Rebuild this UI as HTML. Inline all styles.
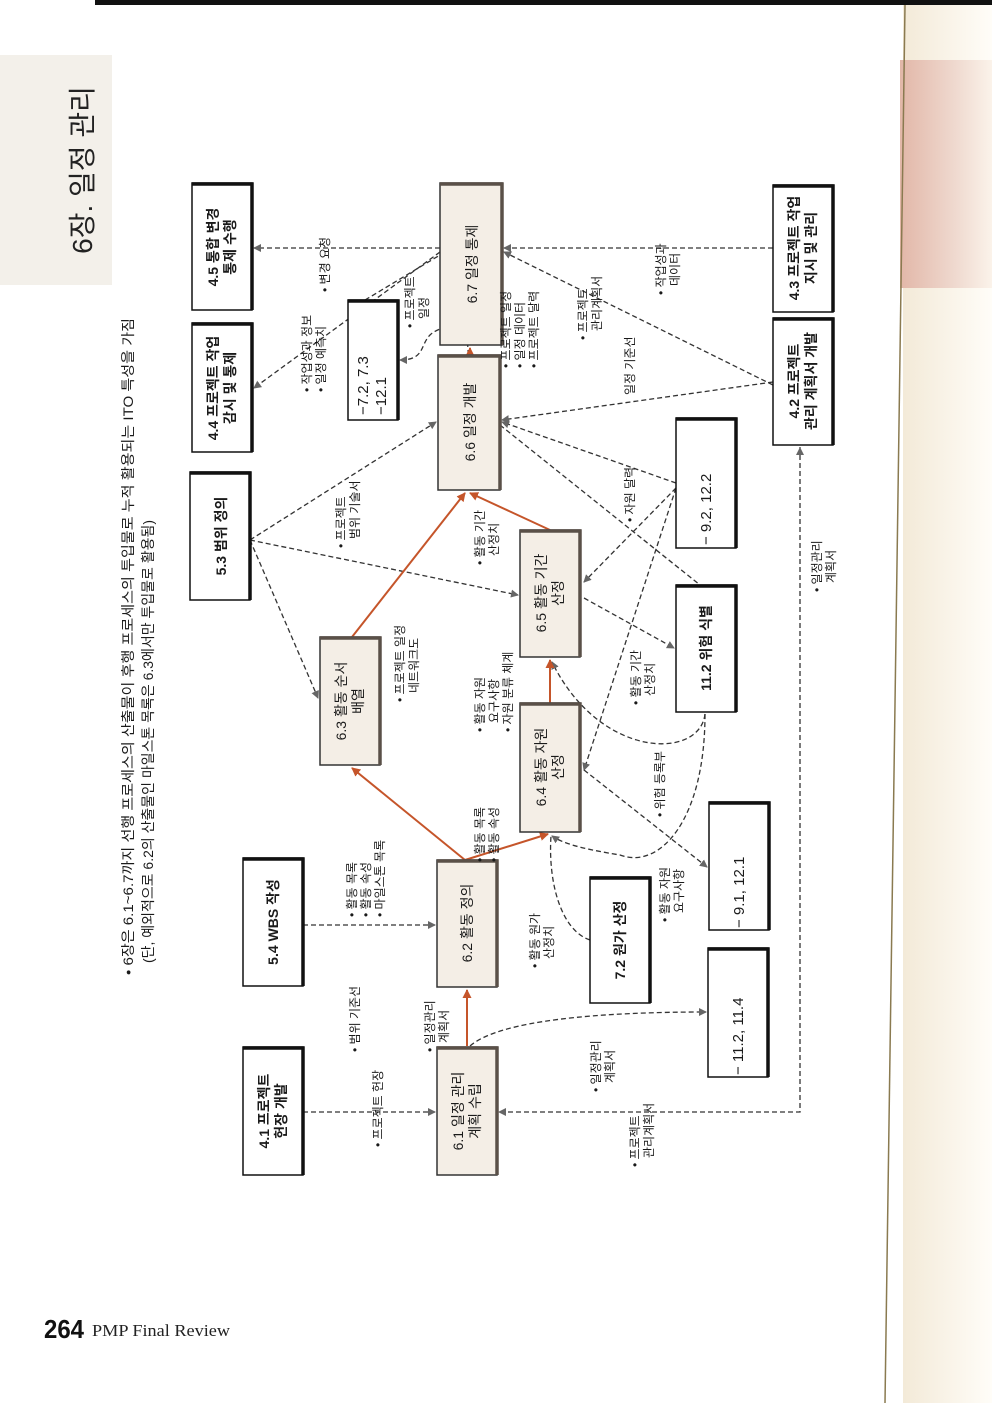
<!DOCTYPE html>
<html><head><meta charset="utf-8"><style>
html,body{margin:0;padding:0;background:#fff;}
svg{display:block;}
text{font-family:"Liberation Sans","Noto Sans CJK KR",sans-serif;fill:#1a1a1a;}
.bx{font-size:14px;font-weight:bold;}
.lb{font-size:12px;}
</style></head><body>
<svg width="992" height="1403" viewBox="0 0 992 1403" xmlns="http://www.w3.org/2000/svg">
<defs>
<marker id="ag" markerWidth="8" markerHeight="8" refX="7" refY="4" orient="auto" markerUnits="userSpaceOnUse"><path d="M0,0 L8,4 L0,8 Z" fill="#666"/></marker>
<marker id="ao" markerWidth="9" markerHeight="9" refX="8" refY="4.5" orient="auto" markerUnits="userSpaceOnUse"><path d="M0,0 L9,4.5 L0,9 Z" fill="#c5552a"/></marker>
<linearGradient id="pk" x1="0" x2="1"><stop offset="0" stop-color="#e2b7a8"/><stop offset="0.6" stop-color="#efd9cf"/><stop offset="1" stop-color="#fbf3ea"/></linearGradient>
<linearGradient id="cr" x1="0" x2="1"><stop offset="0" stop-color="#f3ead8"/><stop offset="1" stop-color="#fffdf8"/></linearGradient>
</defs>
<rect width="992" height="1403" fill="#fff"/>
<rect x="95" y="0" width="897" height="5" fill="#111"/>
<rect x="903" y="5" width="89" height="1398" fill="url(#cr)"/>
<rect x="900" y="60" width="92" height="228" fill="url(#pk)"/>
<line x1="905" y1="5" x2="885" y2="1403" stroke="#8a7a50" stroke-width="1.5"/>
<rect x="0" y="55" width="112" height="230" fill="#f3f0ea"/>
<text transform="translate(92,170) rotate(-90)" text-anchor="middle" style="font-size:28px;fill:#222">6장. 일정 관리</text>
<text class="lb" transform="translate(133,975) rotate(-90)" style="font-size:14px" textLength="657" lengthAdjust="spacingAndGlyphs">• 6장은 6.1~6.7까지 선행 프로세스의 산출물이 후행 프로세스의 투입물로 누적 활용되는 ITO 특성을 가짐</text>
<text class="lb" transform="translate(153,963) rotate(-90)" style="font-size:14px" textLength="443" lengthAdjust="spacingAndGlyphs">(단, 예외적으로 6.2의 산출물인 마일스톤 목록은 6.3에서만 투입물로 활용됨)</text>

<g fill="none" stroke="#333" stroke-width="1.3" stroke-dasharray="5,3">
<line x1="303" y1="1112" x2="435" y2="1112" marker-end="url(#ag)"/>
<line x1="303" y1="925" x2="435" y2="925" marker-end="url(#ag)"/>
<line x1="250" y1="540" x2="318" y2="698" marker-end="url(#ag)"/>
<line x1="250" y1="540" x2="518" y2="595" marker-end="url(#ag)"/>
<line x1="250" y1="540" x2="436" y2="422" marker-end="url(#ag)"/>
<line x1="440" y1="248" x2="254" y2="248" marker-end="url(#ag)"/>
<line x1="440" y1="252" x2="254" y2="388" marker-end="url(#ag)"/>
<line x1="773" y1="248" x2="504" y2="248" marker-end="url(#ag)"/>
<line x1="773" y1="385" x2="504" y2="252" marker-end="url(#ag)"/>
<line x1="773" y1="382" x2="502" y2="420" marker-end="url(#ag)"/>
<line x1="365" y1="300" x2="440" y2="255"/>
<path d="M468,355 C470,320 440,325 430,335 C420,345 425,360 400,360" marker-end="url(#ag)"/>
<line x1="676" y1="483" x2="502" y2="422" marker-end="url(#ag)"/>
<line x1="500" y1="425" x2="700" y2="585"/>
<line x1="676" y1="488" x2="584" y2="582" marker-end="url(#ag)"/>
<line x1="676" y1="488" x2="584" y2="770" marker-end="url(#ag)"/>
<line x1="584" y1="598" x2="674" y2="648" marker-end="url(#ag)"/>
<path d="M705,714 C700,760 600,760 552,662" marker-end="url(#ag)"/>
<path d="M705,714 C705,820 660,870 620,855 C590,850 565,845 552,836" marker-end="url(#ag)"/>
<path d="M590,940 C560,930 548,880 551,836"/>
<line x1="584" y1="770" x2="707" y2="867" marker-end="url(#ag)"/>
<path d="M470,1046 C500,1020 600,1012 706,1012" marker-end="url(#ag)"/>
<path d="M800,447 L800,1112 L499,1112" marker-end="url(#ag)"/>
</g>
<path d="M800,447 l-4,8 h8 Z" fill="#666"/>

<g stroke="#c5552a" stroke-width="2" fill="none">
<line x1="467" y1="1046" x2="467" y2="990" marker-end="url(#ao)"/>
<line x1="465" y1="860" x2="352" y2="768" marker-end="url(#ao)"/>
<line x1="465" y1="860" x2="548" y2="834" marker-end="url(#ao)"/>
<line x1="352" y1="637" x2="465" y2="493" marker-end="url(#ao)"/>
<line x1="550" y1="703" x2="550" y2="660" marker-end="url(#ao)"/>
<line x1="550" y1="530" x2="470" y2="493" marker-end="url(#ao)"/>
<line x1="470" y1="355" x2="470" y2="348" marker-end="url(#ao)"/>
</g>

<g fill="#fff" stroke="#111" stroke-width="1.5">
<rect x="192" y="183" width="60" height="127"/>
<rect x="192" y="323" width="60" height="129"/>
<rect x="190" y="472" width="60" height="128"/>
<rect x="348" y="300" width="50" height="120"/>
<rect x="773" y="185" width="60" height="127"/>
<rect x="773" y="318" width="60" height="127"/>
<rect x="676" y="418" width="60" height="130"/>
<rect x="676" y="585" width="60" height="127"/>
<rect x="709" y="802" width="60" height="128"/>
<rect x="243" y="858" width="60" height="128"/>
<rect x="590" y="877" width="60" height="126"/>
<rect x="708" y="948" width="60" height="129"/>
<rect x="243" y="1047" width="60" height="128"/>
</g>
<g fill="#f4eee6" stroke="#333" stroke-width="1.5">
<rect x="440" y="183" width="62" height="162"/>
<rect x="438" y="355" width="62" height="135"/>
<rect x="520" y="530" width="60" height="127"/>
<rect x="320" y="637" width="60" height="128"/>
<rect x="520" y="703" width="60" height="129"/>
<rect x="437" y="860" width="60" height="127"/>
<rect x="437" y="1047" width="60" height="128"/>
</g>
<g stroke="#111" stroke-width="3.5" fill="none">
<path d="M192,184 H252 V310"/><path d="M192,324 H252 V452"/><path d="M190,473 H250 V600"/>
<path d="M348,301 H398 V420"/><path d="M773,186 H833 V312"/><path d="M773,319 H833 V445"/>
<path d="M676,419 H736 V548"/><path d="M676,586 H736 V712"/><path d="M709,803 H769 V930"/>
<path d="M243,859 H303 V986"/><path d="M590,878 H650 V1003"/><path d="M708,949 H768 V1077"/>
<path d="M243,1048 H303 V1175"/>
</g>
<g stroke="#5a5048" stroke-width="3.5" fill="none">
<path d="M440,184 H502 V345"/><path d="M438,356 H500 V490"/><path d="M520,531 H580 V657"/>
<path d="M320,638 H380 V765"/><path d="M520,704 H580 V832"/><path d="M437,861 H497 V987"/>
<path d="M437,1048 H497 V1175"/>
</g>

<g class="bx" text-anchor="middle">
<text transform="translate(218,247) rotate(-90)"><tspan x="0">4.5 통합 변경</tspan><tspan x="0" dy="17">통제 수행</tspan></text>
<text transform="translate(218,388) rotate(-90)"><tspan x="0">4.4 프로젝트 작업</tspan><tspan x="0" dy="17">감시 및 통제</tspan></text>
<text transform="translate(226,536) rotate(-90)">5.3 범위 정의</text>
<text transform="translate(477,264) rotate(-90)" style="font-weight:normal">6.7 일정 통제</text>
<text transform="translate(475,422) rotate(-90)" style="font-weight:normal">6.6 일정 개발</text>
<text transform="translate(799,248) rotate(-90)"><tspan x="0">4.3 프로젝트 작업</tspan><tspan x="0" dy="17">지시 및 관리</tspan></text>
<text transform="translate(799,381) rotate(-90)"><tspan x="0">4.2 프로젝트</tspan><tspan x="0" dy="17">관리 계획서 개발</tspan></text>
<text transform="translate(546,593) rotate(-90)" style="font-weight:normal"><tspan x="0">6.5 활동 기간</tspan><tspan x="0" dy="17">산정</tspan></text>
<text transform="translate(711,648) rotate(-90)">11.2 위험 식별</text>
<text transform="translate(346,701) rotate(-90)" style="font-weight:normal"><tspan x="0">6.3 활동 순서</tspan><tspan x="0" dy="17">배열</tspan></text>
<text transform="translate(546,767) rotate(-90)" style="font-weight:normal"><tspan x="0">6.4 활동 자원</tspan><tspan x="0" dy="17">산정</tspan></text>
<text transform="translate(278,922) rotate(-90)">5.4 WBS 작성</text>
<text transform="translate(472,923) rotate(-90)" style="font-weight:normal">6.2 활동 정의</text>
<text transform="translate(625,940) rotate(-90)">7.2 원가 산정</text>
<text transform="translate(269,1111) rotate(-90)"><tspan x="0">4.1 프로젝트</tspan><tspan x="0" dy="17">헌장 개발</tspan></text>
<text transform="translate(463,1111) rotate(-90)" style="font-weight:normal"><tspan x="0">6.1 일정 관리</tspan><tspan x="0" dy="17">계획 수립</tspan></text>
</g>
<g style="font-size:15px" text-anchor="start">
<text transform="translate(368,415) rotate(-90)"><tspan x="0">−7.2, 7.3</tspan><tspan x="0" dy="18">−12.1</tspan></text>
<text transform="translate(711,545) rotate(-90)">− 9.2, 12.2</text>
<text transform="translate(744,928) rotate(-90)">− 9.1, 12.1</text>
<text transform="translate(743,1075) rotate(-90)">− 11.2, 11.4</text>
</g>

<g class="lb" text-anchor="start">
<text transform="translate(329,292) rotate(-90)">• 변경 요청</text>
<text transform="translate(311,392) rotate(-90)"><tspan x="0">• 작업성과 정보</tspan><tspan x="0" dy="14">• 일정 예측치</tspan></text>
<text transform="translate(414,328) rotate(-90)"><tspan x="0">• 프로젝트</tspan><tspan x="9" dy="14">일정</tspan></text>
<text transform="translate(510,368) rotate(-90)"><tspan x="0">• 프로젝트 일정</tspan><tspan x="0" dy="14">• 일정 데이터</tspan><tspan x="0" dy="14">• 프로젝트 달력</tspan></text>
<text transform="translate(587,340) rotate(-90)"><tspan x="0">• 프로젝트</tspan><tspan x="9" dy="14">관리계획서</tspan></text>
<text transform="translate(665,295) rotate(-90)"><tspan x="0">• 작업성과</tspan><tspan x="9" dy="14">데이터</tspan></text>
<text transform="translate(634,395) rotate(-90)">일정 기준선</text>
<text transform="translate(634,522) rotate(-90)">• 자원 달력</text>
<text transform="translate(345,548) rotate(-90)"><tspan x="0">• 프로젝트</tspan><tspan x="9" dy="14">범위 기술서</tspan></text>
<text transform="translate(484,565) rotate(-90)"><tspan x="0">• 활동 기간</tspan><tspan x="9" dy="14">산정치</tspan></text>
<text transform="translate(404,702) rotate(-90)"><tspan x="0">• 프로젝트 일정</tspan><tspan x="9" dy="14">네트워크도</tspan></text>
<text transform="translate(484,732) rotate(-90)"><tspan x="0">• 활동 자원</tspan><tspan x="9" dy="14">요구사항</tspan><tspan x="0" dy="14">• 자원 분류 체계</tspan></text>
<text transform="translate(640,705) rotate(-90)"><tspan x="0">• 활동 기간</tspan><tspan x="9" dy="14">산정치</tspan></text>
<text transform="translate(664,817) rotate(-90)">• 위험 등록부</text>
<text transform="translate(484,862) rotate(-90)"><tspan x="0">• 활동 목록</tspan><tspan x="0" dy="14">• 활동 속성</tspan></text>
<text transform="translate(356,917) rotate(-90)"><tspan x="0">• 활동 목록</tspan><tspan x="0" dy="14">• 활동 속성</tspan><tspan x="0" dy="14">• 마일스톤 목록</tspan></text>
<text transform="translate(539,968) rotate(-90)"><tspan x="0">• 활동 원가</tspan><tspan x="9" dy="14">산정치</tspan></text>
<text transform="translate(669,922) rotate(-90)"><tspan x="0">• 활동 자원</tspan><tspan x="9" dy="14">요구사항</tspan></text>
<text transform="translate(359,1052) rotate(-90)">• 범위 기준선</text>
<text transform="translate(434,1052) rotate(-90)"><tspan x="0">• 일정관리</tspan><tspan x="9" dy="14">계획서</tspan></text>
<text transform="translate(382,1147) rotate(-90)">• 프로젝트 헌장</text>
<text transform="translate(600,1092) rotate(-90)"><tspan x="0">• 일정관리</tspan><tspan x="9" dy="14">계획서</tspan></text>
<text transform="translate(639,1167) rotate(-90)"><tspan x="0">• 프로젝트</tspan><tspan x="9" dy="14">관리계획서</tspan></text>
<text transform="translate(821,592) rotate(-90)"><tspan x="0">• 일정관리</tspan><tspan x="9" dy="14">계획서</tspan></text>
</g>

<text x="44" y="1338" style="font-size:26px;font-weight:bold;fill:#111" textLength="40" lengthAdjust="spacingAndGlyphs">264</text>
<text x="92" y="1336" style="font-family:'Liberation Serif',serif;font-size:16.5px;fill:#222" textLength="138" lengthAdjust="spacingAndGlyphs">PMP Final Review</text>
</svg>
</body></html>
